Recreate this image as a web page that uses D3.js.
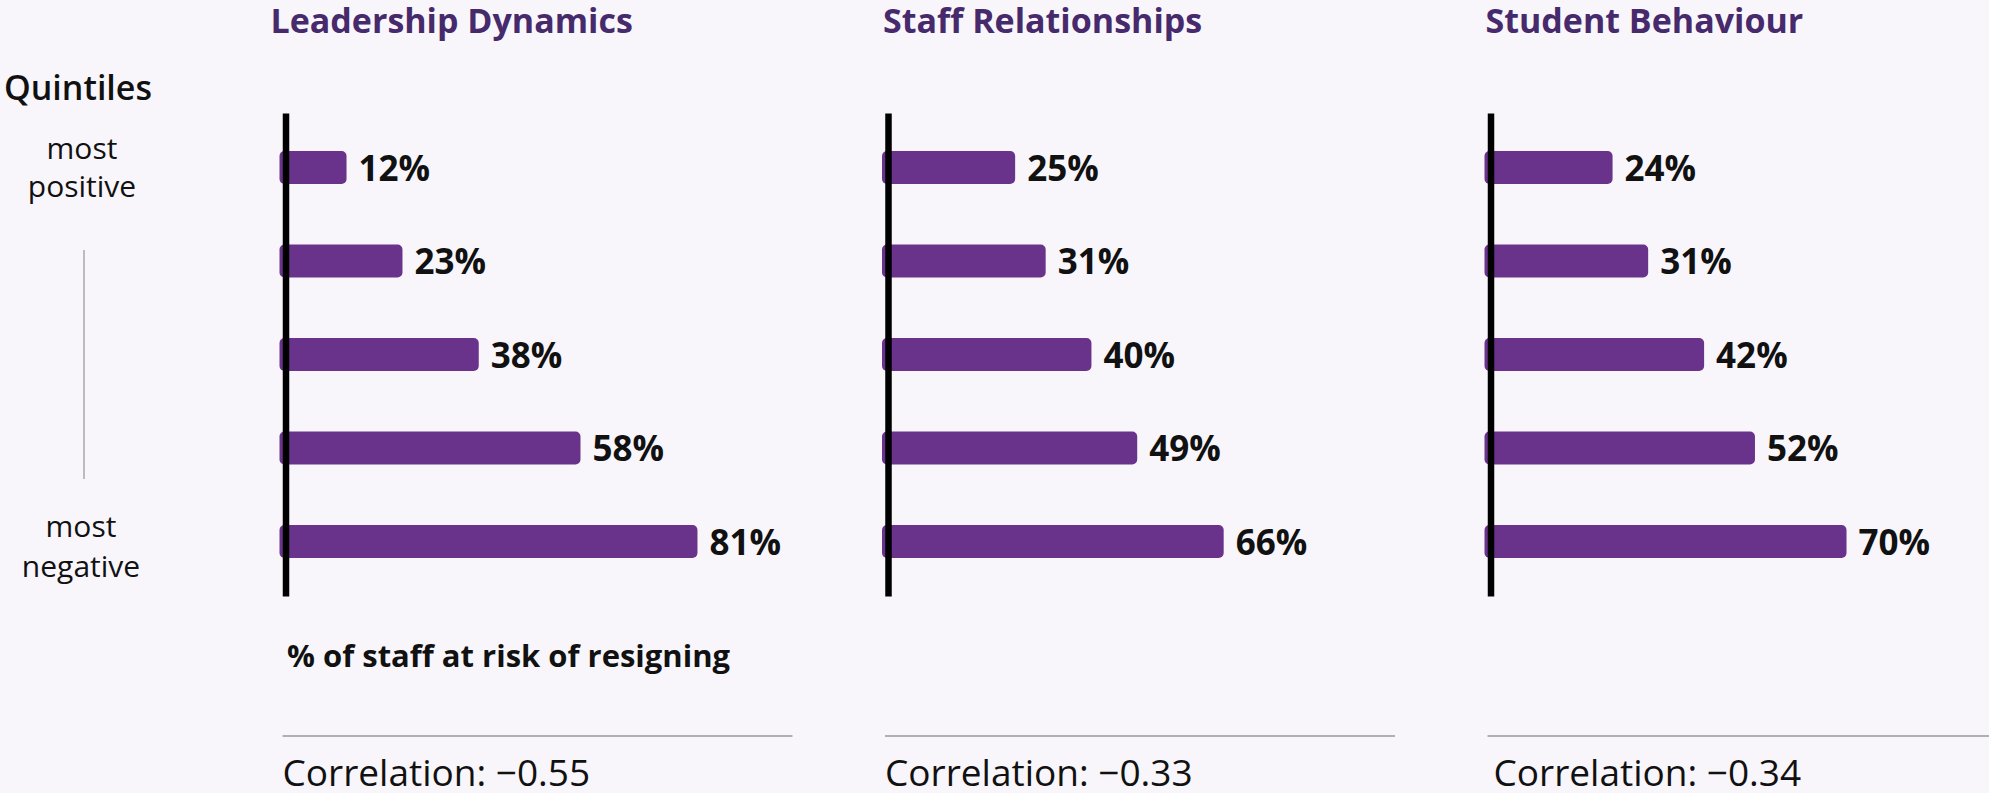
<!DOCTYPE html>
<html>
<head>
<meta charset="utf-8">
<script src="https://cdn.jsdelivr.net/npm/d3@7"></script>
<style>
  body { margin: 0; background: #f8f6fb; }
  svg { display: block; font-family: "Open Sans", sans-serif; }
  .title { font-weight: 700; font-size: 34px; fill: #472a6b; }
  .value { font-weight: 700; font-size: 35px; fill: #111; }
  .corr { font-size: 37px; fill: #111; }
  .side { font-size: 30px; fill: #111; }
</style>
</head>
<body>
<div id="chart"></div>
<script>
//chart data
var quintiles = ["Q1", "Q2", "Q3", "Q4", "Q5"];
var panelTitles = ["Leadership Dynamics", "Staff Relationships", "Student Behaviour"];
var leadershipValues = [12, 23, 38, 58, 81];
var staffValues = [25, 31, 40, 49, 66];
var behaviourValues = [24, 31, 42, 52, 70];
var correlations = ["-0.55", "-0.33", "-0.34"];

var width = 1989;
var height = 793;

var svg = d3.select("#chart")
.append("svg")
.attr("width", width)
.attr("height", height);

svg.append("rect")
.attr("width", width)
.attr("height", height)
.attr("fill", "#f8f6fb");

//shared scales for the three panels
var x = d3.scaleLinear()
.domain([0, 100])
.range([0, 508.6]);

var y = d3.scaleBand()
.domain(quintiles)
.range([113, 596])
.paddingInner(0.647)
.paddingOuter(0.4065);

var panels = [leadershipValues, staffValues, behaviourValues];

panels.forEach(function(values, i) {
  var g = svg.append("g")
  .attr("transform", "translate(" + (285.5 + 602.5 * i) + ",0)");

  var data = quintiles.map(function(q, j) { return {q: q, v: values[j]}; });

  //title
  g.append("text")
  .attr("class", "title")
  .attr("x", i == 0 ? -15 : -5)
  .attr("y", 33)
  .text(panelTitles[i]);

  //bars (left corners hidden behind the axis)
  g.selectAll(".bar")
  .data(data)
  .enter()
  .append("rect")
  .attr("class", "bar")
  .attr("x", x(0) - 6)
  .attr("y", function(d) { return y(d.q); })
  .attr("width", function(d) { return x(d.v) + 6; })
  .attr("height", y.bandwidth())
  .attr("rx", 5)
  .attr("fill", "#6a338b");

  //vertical axis
  g.append("g")
  .attr("class", "axis")
  .call(d3.axisLeft(y).tickSize(0).tickSizeOuter(0).tickFormat(""))
  .call(function(a) {
    a.select(".domain").attr("stroke", "#000").attr("stroke-width", 6.5);
  });

  //value labels
  g.selectAll(".value")
  .data(data)
  .enter()
  .append("text")
  .attr("class", "value")
  .attr("x", function(d) { return x(d.v) + 12; })
  .attr("y", function(d) { return y(d.q) + y.bandwidth() / 2; })
  .attr("dy", "0.38em")
  .text(function(d) { return d.v + "%"; });

  //separator line and correlation
  g.append("line")
  .attr("x1", -3)
  .attr("x2", 507)
  .attr("y1", 736)
  .attr("y2", 736)
  .attr("stroke", "#b0b0b0")
  .attr("stroke-width", 2);

  g.append("text")
  .attr("class", "corr")
  .attr("x", i == 2 ? 3 : -3)
  .attr("y", 786)
  .text("Correlation: " + correlations[i].replace("-", "\u2212"));
});

//x label under first panel
svg.append("text")
.attr("x", 287)
.attr("y", 667)
.attr("font-size", 31)
.attr("font-weight", 700)
.attr("fill", "#111")
.text("% of staff at risk of resigning");

//quintile legend on the left
svg.append("text")
.attr("x", 4)
.attr("y", 100)
.attr("font-size", 34)
.attr("font-weight", 600)
.attr("fill", "#111")
.text("Quintiles");

var side = svg.append("g").attr("class", "side").attr("text-anchor", "middle");
side.append("text").attr("x", 82).attr("y", 159).text("most");
side.append("text").attr("x", 82).attr("y", 197).text("positive");
side.append("text").attr("x", 81).attr("y", 537).text("most");
side.append("text").attr("x", 81).attr("y", 577).text("negative");

svg.append("line")
.attr("x1", 84)
.attr("x2", 84)
.attr("y1", 250)
.attr("y2", 479)
.attr("stroke", "#a8a8a8")
.attr("stroke-width", 1.5);
</script>
</body>
</html>
